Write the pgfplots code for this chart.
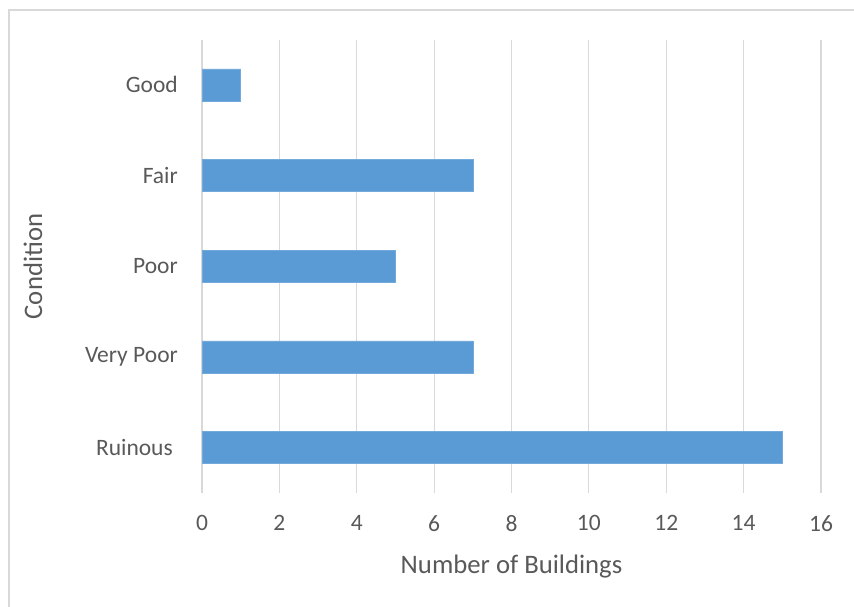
\documentclass[border=0pt]{standalone}
\usepackage{pgfplots}
\pgfplotsset{compat=1.18}
\usepackage{fontspec}
\setmainfont{Carlito}
\definecolor{barblue}{HTML}{5B9BD5}
\definecolor{txtgray}{HTML}{595959}
\definecolor{gridgray}{HTML}{D9D9D9}
\begin{document}
\begin{tikzpicture}[x=1pt,y=-1pt]
\useasboundingbox (0,0) rectangle (854,606);
\begin{scope}
\clip (0,0) rectangle (854,606);
\draw[gridgray, line width=1.5pt] (9,10) rectangle (880,640);
\end{scope}
\begin{axis}[
  at={(202pt,-493pt)}, anchor=south west,
  scale only axis,
  width=619pt, height=453.5pt,
  xmin=0, xmax=16, ymin=-0.5, ymax=4.5,
  xtick={0,2,...,16},
  ytick={0,1,2,3,4},
  yticklabels={{Ruinous\rule{5pt}{0pt}},Very Poor,Poor,Fair,Good},
  xbar, bar width=0.353,
  axis line style={draw=none},
  major tick length=0pt,
  xmajorgrids, grid style={gridgray, line width=1.2pt},
  ticklabel style={text=txtgray, font=\fontsize{23.5}{28}\selectfont},
  /pgf/number format/assume math mode=true,
  yticklabel style={anchor=east, inner sep=0pt, xshift=-24pt},
  xticklabel style={anchor=north, inner sep=0pt, yshift=-22pt},
  clip=false,
]
\addplot[fill=barblue, draw=barblue!85!white, line width=0.6pt] coordinates {(15,0) (7,1) (5,2) (7,3) (1,4)};
\end{axis}
\node[anchor=base, text=txtgray, inner sep=0pt, font=\fontsize{26.7}{32}\selectfont] at (511.5,573) {Number of Buildings};
\node[anchor=base, rotate=90, text=txtgray, inner sep=0pt, font=\fontsize{26.7}{32}\selectfont] at (42,266.5) {Condition};
\end{tikzpicture}
\end{document}
